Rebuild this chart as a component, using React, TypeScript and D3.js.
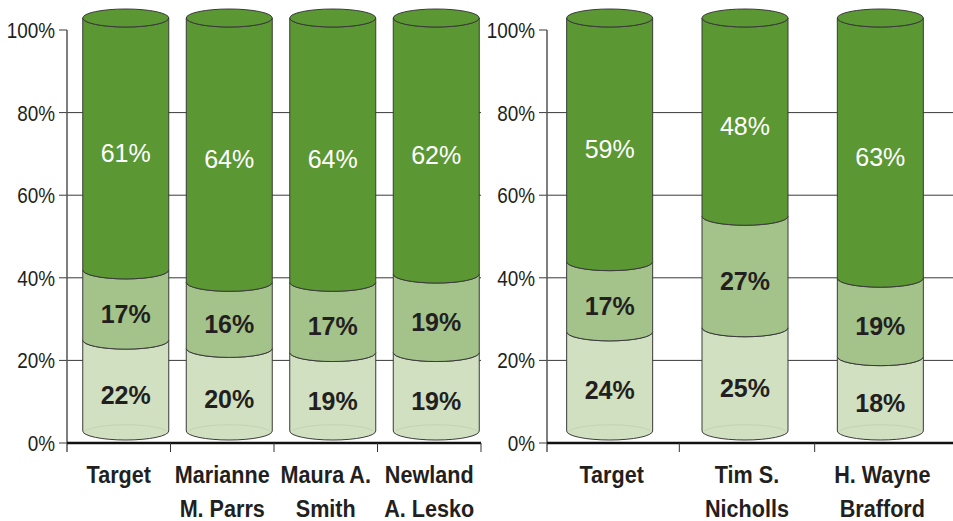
import React from "react";
import * as d3 from "d3";

// left panel
const leftCategories = ["Target", "Marianne\nM. Parrs", "Maura A.\nSmith", "Newland\nA. Lesko"];
const leftLow = [22, 20, 19, 19];
const leftMid = [17, 16, 17, 19];
const leftHigh = [61, 64, 64, 62];

// right panel
const rightCategories = ["Target", "Tim S.\nNicholls", "H. Wayne\nBrafford"];
const rightLow = [24, 25, 18];
const rightMid = [17, 27, 19];
const rightHigh = [59, 48, 63];

const yTicks = [0, 20, 40, 60, 80, 100];

const keys = ["low", "mid", "high"] as const;
const colors: Record<string, string> = { low: "#d1e0c1", mid: "#a4c38b", high: "#5b9733" };

const W = 953;
const H = 521;
const y = d3.scaleLinear().domain([0, 100]).range([443, 30]);

const RX = 43;
const RY = 9;
const DEPTH = 12; // ellipse centre sits this far above the value line

type Row = { cat: string; low: number; mid: number; high: number };

type PanelProps = {
    categories: string[];
    low: number[];
    mid: number[];
    high: number[];
    range: [number, number];
    axisX: number;
    gridEnd: number;
    cylDx: number;
};

const segPath = (cx: number, v0: number, v1: number) => {
    const c0 = y(v0) - DEPTH;
    const c1 = y(v1) - DEPTH;
    return `M${cx - RX},${c1} A${RX},${RY} 0 0 0 ${cx + RX},${c1} L${cx + RX},${c0} A${RX},${RY} 0 0 1 ${cx - RX},${c0} Z`;
};

const Panel: React.FC<PanelProps> = ({ categories, low, mid, high, range, axisX, gridEnd, cylDx }) => {
    const rows: Row[] = categories.map((c, i) => ({ cat: c, low: low[i], mid: mid[i], high: high[i] }));
    const x = d3.scaleBand<string>().domain(categories).range(range).padding(0);
    const series = d3.stack<Row>().keys(keys as unknown as string[])(rows);
    const bounds = categories.map((c) => x(c)!).slice(1);

    return (
        <g>
            {/* grid */}
            {yTicks.filter((t) => t > 0 && t < 100).map((t) => (
                <line key={t} x1={axisX} x2={gridEnd} y1={y(t)} y2={y(t)} stroke="#3a3a3a" strokeWidth={1} />
            ))}
            {/* y ticks */}
            {yTicks.map((t) => (
                <g key={t}>
                    <line x1={axisX - 8} x2={axisX} y1={y(t)} y2={y(t)} stroke="#3a3a3a" strokeWidth={1} />
                    <g transform={`translate(${axisX - 12},${y(t) + 8}) scale(0.86,1)`}>
                        <text textAnchor="end" fontSize={22} fill="#231f20" fontFamily="Liberation Sans, Arial, sans-serif">
                            {t}%
                        </text>
                    </g>
                </g>
            ))}
            <line x1={axisX} x2={axisX} y1={y(100)} y2={452} stroke="#555" strokeWidth={1.5} />

            {/* cylinders */}
            {rows.map((r, i) => {
                const cx = x(r.cat)! + x.bandwidth() / 2 + cylDx;
                return (
                    <g key={r.cat}>
                        {series.map((s) => {
                            const [v0, v1] = s[i];
                            return (
                                <path key={s.key} d={segPath(cx, v0, v1)} fill={colors[s.key]} stroke="#3a3a3a" strokeWidth={1} />
                            );
                        })}
                        <path
                            d={`M${cx - RX + 2},${y(0) - DEPTH} A${RX},${RY} 0 0 1 ${cx + RX - 2},${y(0) - DEPTH}`}
                            fill="none"
                            stroke="#c2d3b3"
                            strokeWidth={1}
                        />
                        <ellipse cx={cx} cy={y(100) - DEPTH} rx={RX} ry={RY} fill={colors.high} stroke="#3a3a3a" strokeWidth={1} />
                        {series.map((s) => {
                            const [v0, v1] = s[i];
                            const ly = (y(v0) + y(v1)) / 2 - 3;
                            const dark = s.key === "high";
                            return (
                                <text
                                    key={s.key}
                                    x={cx}
                                    y={ly}
                                    dy="0.36em"
                                    textAnchor="middle"
                                    fontSize={25}
                                    fontWeight={dark ? "normal" : "bold"}
                                    fill={dark ? "#ffffff" : "#231f20"}
                                    fontFamily="Liberation Sans, Arial, sans-serif"
                                >
                                    {v1 - v0}%
                                </text>
                            );
                        })}
                    </g>
                );
            })}

            {/* x axis */}
            <line x1={axisX} x2={gridEnd} y1={y(0)} y2={y(0)} stroke="#111" strokeWidth={2.5} />
            {bounds.map((b, i) => (
                <line key={i} x1={b} x2={b} y1={y(0)} y2={452} stroke="#333" strokeWidth={1} />
            ))}
            {range[1] < W - 5 && <line x1={range[1]} x2={range[1]} y1={y(0)} y2={452} stroke="#333" strokeWidth={1} />}
            {categories.map((c) => {
                const cx = x(c)! + x.bandwidth() / 2;
                return c.split("\n").map((line, j) => (
                    <g key={c + j} transform={`translate(${cx},${483 + j * 34}) scale(0.9,1)`}>
                        <text textAnchor="middle" fontSize={24} fontWeight="bold" fill="#231f20" fontFamily="Liberation Sans, Arial, sans-serif">
                            {line}
                        </text>
                    </g>
                ));
            })}
        </g>
    );
};

export default function App() {
    return (
        <svg width={W} height={H} style={{ position: "absolute", left: 0, top: 0, background: "#fff" }}>
            <Panel
                categories={leftCategories}
                low={leftLow}
                mid={leftMid}
                high={leftHigh}
                range={[67, 481]}
                axisX={67}
                gridEnd={481}
                cylDx={7}
            />
            <Panel
                categories={rightCategories}
                low={rightLow}
                mid={rightMid}
                high={rightHigh}
                range={[544, 950]}
                axisX={547}
                gridEnd={953}
                cylDx={-2}
            />
        </svg>
    );
}
